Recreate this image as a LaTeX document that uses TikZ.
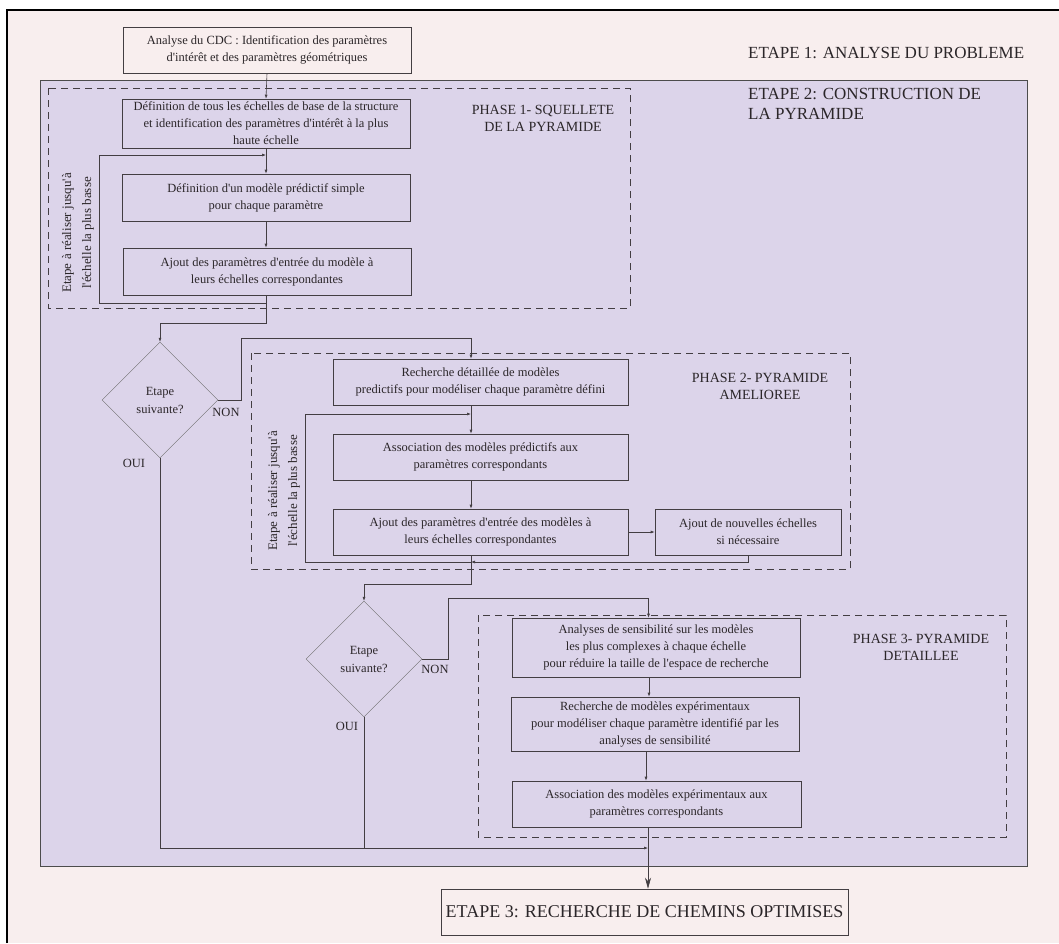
\documentclass[tikz,border=0pt]{standalone}
\usepackage{fontspec}
\setmainfont{Liberation Serif}[Ligatures=TeXOff]
\usetikzlibrary{arrows.meta,shapes.geometric}

\definecolor{etapebg}{HTML}{F8EEEE}
\definecolor{pyramidbg}{HTML}{DCD4EA}
\definecolor{linegray}{HTML}{433E42}
\definecolor{textgray}{HTML}{2B2629}

\begin{document}
\begin{tikzpicture}[
    x=1pt, y=-1pt,
    stepbox/.style={rectangle, draw=linegray, semithick, inner sep=0pt, align=center, text=textgray, font=\fontsize{12.5}{17}\selectfont},
    decision/.style={diamond, draw=gray!85!black, minimum width=116pt, minimum height=116pt, inner sep=0pt, align=center, text=textgray, font=\fontsize{12.5}{18}\selectfont},
    phasebox/.style={draw=linegray, semithick, dash pattern=on 7pt off 5pt},
    phaselabel/.style={align=center, text=textgray, font=\fontsize{14}{17}\selectfont},
    steplabel/.style={align=left, anchor=west, inner sep=0pt, text=textgray, font=\fontsize{17}{20}\selectfont},
    looplabel/.style={rotate=90, align=center, text=textgray, font=\fontsize{13}{20}\selectfont},
    answer/.style={inner sep=0pt, text=textgray, font=\fontsize{12.5}{14}\selectfont},
    link/.style={draw=linegray, semithick},
    flow/.style={link, -{Latex[length=4pt,width=3pt]}}
]
\useasboundingbox (0,0) rectangle (1059,943);

% === BACKGROUND ===
\fill[white] (0,0) rectangle (1059,943);
\fill[etapebg] (7,10) rectangle (1059,943);
\draw[black, line width=1.5pt] (7,943) -- (7,10) -- (1059,10);
\draw[gray!60!black, fill=pyramidbg, line width=0.9pt] (40,80) rectangle (1027,866);

% === ETAPE 1 ===
\node[steplabel] (etape1) at (748,53) {ETAPE 1: ANALYSE DU PROBLEME};
\node[stepbox, minimum width=288pt, minimum height=46pt] (cdc) at (267,50)
    {Analyse du CDC : Identification des paramètres\\d'intérêt et des paramètres géométriques};

% === ETAPE 2 ===
\node[steplabel, anchor=north west] (etape2) at (748,88) {ETAPE 2: CONSTRUCTION DE\\LA PYRAMIDE};

% Phase 1
\draw[phasebox] (48,88) rectangle (630,308);
\node[phaselabel] (phase1) at (543,118) {PHASE 1- SQUELLETE\\DE LA PYRAMIDE};
\node[looplabel] (boucle1) at (78,233) {Etape à réaliser jusqu'à\\l'échelle la plus basse};

\node[stepbox, minimum width=288pt, minimum height=49pt] (bases) at (266,123.5)
    {Définition de tous les échelles de base de la structure\\et identification des paramètres d'intérêt à la plus\\haute échelle};
\node[stepbox, minimum width=288pt, minimum height=47pt] (simple) at (266,197.5)
    {Définition d'un modèle prédictif simple\\pour chaque paramètre};
\node[stepbox, minimum width=288pt, minimum height=47pt] (entree1) at (267,271.5)
    {Ajout des paramètres d'entrée du modèle à\\leurs échelles correspondantes};

% Decision 1
\node[decision] (dec1) at (160,400) {Etape\\suivante?};
\node[answer] (non1) at (226,412) {NON};
\node[answer] (oui1) at (134,463) {OUI};

% Phase 2
\draw[phasebox] (251,353) rectangle (850,569);
\node[phaselabel] (phase2) at (760,386) {PHASE 2- PYRAMIDE\\AMELIOREE};
\node[looplabel] (boucle2) at (284,491) {Etape à réaliser jusqu'à\\l'échelle la plus basse};

\node[stepbox, minimum width=295pt, minimum height=46pt] (recherche) at (480.5,382)
    {Recherche détaillée de modèles\\predictifs pour modéliser chaque paramètre défini};
\node[stepbox, minimum width=295pt, minimum height=46pt] (assoc2) at (480.5,457)
    {Association des modèles prédictifs aux\\paramètres correspondants};
\node[stepbox, minimum width=295pt, minimum height=46pt] (entree2) at (480.5,532)
    {Ajout des paramètres d'entrée des modèles à\\leurs échelles correspondantes};
\node[stepbox, minimum width=186pt, minimum height=46pt] (nouvelles) at (748,532)
    {Ajout de nouvelles échelles\\si nécessaire};

% Decision 2
\node[decision] (dec2) at (364,659) {Etape\\suivante?};
\node[answer] (non2) at (435,669) {NON};
\node[answer] (oui2) at (347,726) {OUI};

% Phase 3
\draw[phasebox] (478,615) rectangle (1006,837);
\node[phaselabel] (phase3) at (921,647) {PHASE 3- PYRAMIDE\\DETAILLEE};

\node[stepbox, minimum width=288pt, minimum height=59pt] (sensib) at (656,647.5)
    {Analyses de sensibilité sur les modèles\\les plus complexes à chaque échelle\\pour réduire la taille de l'espace de recherche};
\node[stepbox, minimum width=288pt, minimum height=54pt] (experim) at (655,724)
    {Recherche de modèles expérimentaux\\pour modéliser chaque paramètre identifié par les\\analyses de sensibilité};
\node[stepbox, minimum width=289pt, minimum height=46pt] (assoc3) at (656.5,804)
    {Association des modèles expérimentaux aux\\paramètres correspondants};

% === ETAPE 3 ===
\node[stepbox, minimum width=407pt, minimum height=46pt, font=\fontsize{18}{20}\selectfont] (etape3) at (644.5,912)
    {ETAPE 3: RECHERCHE DE CHEMINS OPTIMISES};

% === CONNECTORS ===
\coordinate (j1) at (266,303);
\coordinate (r1) at (266,155);
\coordinate (j2) at (471,562);
\coordinate (r2) at (471,414);
\coordinate (j3) at (648,848);

% phase 1
\draw[flow] (cdc.south) -- (bases.north);
\draw[flow] (bases.south) -- (simple.north);
\draw[flow] (simple.south) -- (simple.south |- entree1.north);
\draw[link] (entree1.south -| j1) -- (j1);
\draw[flow] (j1) -- (99,303) |- (r1);
\draw[flow] (j1) -- (266,323) -| (dec1.north);

% phase 2
\draw[flow] (dec1.east) -- ++(23,0) |- ([xshift=-9.5pt, yshift=20pt]recherche.north) -- ([xshift=-9.5pt]recherche.north);
\draw[flow] ([xshift=-9.5pt]recherche.south) -- ([xshift=-9.5pt]assoc2.north);
\draw[flow] ([xshift=-9.5pt]assoc2.south) -- ([xshift=-9.5pt]entree2.north);
\draw[flow] (entree2.east) -- (nouvelles.west);
\draw[link] ([xshift=-9.5pt]entree2.south) -- (j2);
\draw[flow] (nouvelles.south) |- (j2);
\draw[flow] (j2) -- (305,562) |- (r2);
\draw[flow] (j2) -- (471,584) -| (dec2.north);

% phase 3
\draw[flow] (dec2.east) -- ++(26,0) |- ([xshift=-7.5pt, yshift=19pt]sensib.north) -- ([xshift=-7.5pt]sensib.north);
\draw[flow] ([xshift=-7pt]sensib.south) -- ([xshift=-7pt]sensib.south |- experim.north);
\draw[flow] ([xshift=-9pt]experim.south) -- ([xshift=-9pt]experim.south |- assoc3.north);

% to etape 3
\draw[flow] (dec1.south) |- (j3);
\draw[link] (dec2.south) -- (dec2.south |- j3);
\draw[link, -{Stealth[length=11pt,width=6pt]}] (assoc3.south -| j3) -- (etape3.north -| j3);

\end{tikzpicture}
\end{document}
